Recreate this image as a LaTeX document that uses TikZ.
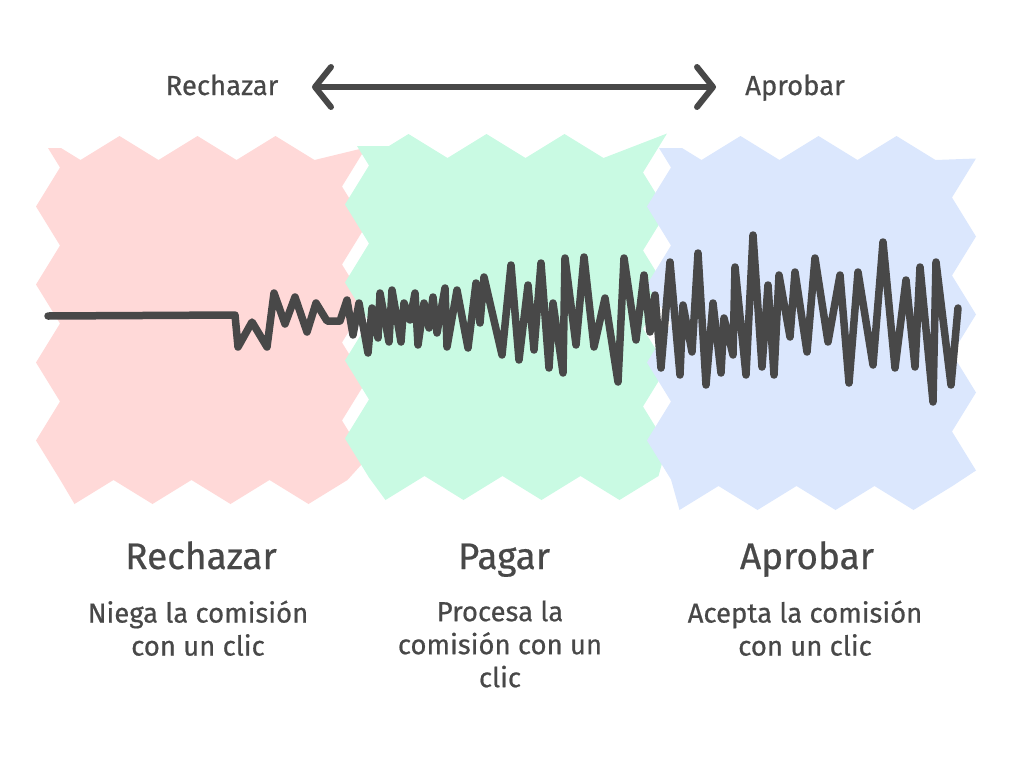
\documentclass[tikz,border=0pt]{standalone}
\usepackage{fontspec}
\setmainfont{Fira Sans}
\newfontfamily\hand{Fira Sans}[FakeBold=0.6]
\usetikzlibrary{arrows.meta,decorations.pathmorphing}
\definecolor{ink}{RGB}{72,72,72}
\definecolor{rosa}{RGB}{255,217,216}
\definecolor{menta}{RGB}{201,250,227}
\definecolor{cielo}{RGB}{219,231,253}

\begin{document}
\begin{tikzpicture}[x=1pt,y=-1pt]
    \tikzset{blob/.style = {decorate,decoration={zigzag,segment length=78pt,amplitude=12pt}}}
    \tikzset{title/.style = {text=ink,anchor=base,font=\hand\fontsize{37}{42}\selectfont}}
    \tikzset{small/.style = {text=ink,font=\hand\fontsize{27.5}{33}\selectfont,align=center}}
    \tikzset{wave/.style = {ink,line width=7.5pt,line join=round,line cap=round}}
    \useasboundingbox (0,0) rectangle (1012,758);
    \fill[rosa,blob] (48,148) rectangle (354,492);
    \fill[menta,blob] (357,146) rectangle (655,488);
    \fill[cielo,blob] (659,148) rectangle (964,498);
    \node[small,anchor=base] (rech) at (222,95) {Rechazar}; \node[small,anchor=base] (apro) at (795,95) {Aprobar};
    \coordinate (izq) at (312,87); \coordinate (der) at (716,87);
    \draw[ink,line width=6pt,line cap=round,
    {Straight Barb[length=16pt,width=40pt,line cap=round,line join=round]}-{Straight Barb[length=16pt,width=40pt,line cap=round,line join=round]}]
    (izq) -- (der);
    \draw[wave] (48,316) -- (235,315) -- (238,347) -- (252,322) -- (267,347) -- (274,293)
    -- (285,324) -- (295,297) -- (307,332) -- (316,303) -- (327,321) -- (340,321) -- (347,300)
    -- (353,335) -- (359,303) -- (368,353) -- (372,308) -- (378,338) -- (380,293) -- (389,342)
    -- (392,290) -- (401,342) -- (404,303) -- (410,320) -- (415,293) -- (418,345) -- (424,303)
    -- (429,328) -- (433,297) -- (437,333) -- (445,288) -- (447,347) -- (457,290) -- (468,348)
    -- (476,283) -- (480,323) -- (484,277) -- (502,355) -- (511,265) -- (519,360) -- (528,285)
    -- (534,350) -- (541,263) -- (549,368) -- (553,303) -- (563,373) -- (565,258) -- (576,345)
    -- (584,257) -- (594,347) -- (605,298) -- (618,382) -- (624,258) -- (636,340) -- (644,275)
    -- (650,332) -- (655,295) -- (661,368) -- (670,262) -- (680,375) -- (683,305) -- (692,352)
    -- (698,253) -- (706,385) -- (713,303) -- (721,373) -- (724,318) -- (733,355) -- (735,267)
    -- (746,375) -- (753,235) -- (762,367) -- (768,285) -- (774,375) -- (779,275) -- (790,337)
    -- (795,272) -- (807,352) -- (815,258) -- (828,342) -- (840,275) -- (849,383) -- (858,272)
    -- (873,365) -- (883,242) -- (895,368) -- (906,280) -- (915,367) -- (920,267) -- (933,402)
    -- (936,262) -- (951,385) -- (958,308);
    \node[title] (t1) at (201,569) {Rechazar}; \node[title] (t2) at (504,569) {Pagar};
    \node[title] (t3) at (807,569) {Aprobar};
    \node[small,anchor=north] (d1) at (198,597) {Niega la comisión\\con un clic};
    \node[small,anchor=north] (d2) at (500,597) {Procesa la\\comisión con un\\clic};
    \node[small,anchor=north] (d3) at (805,597) {Acepta la comisión\\con un clic};
  \end{tikzpicture}
\end{document}
